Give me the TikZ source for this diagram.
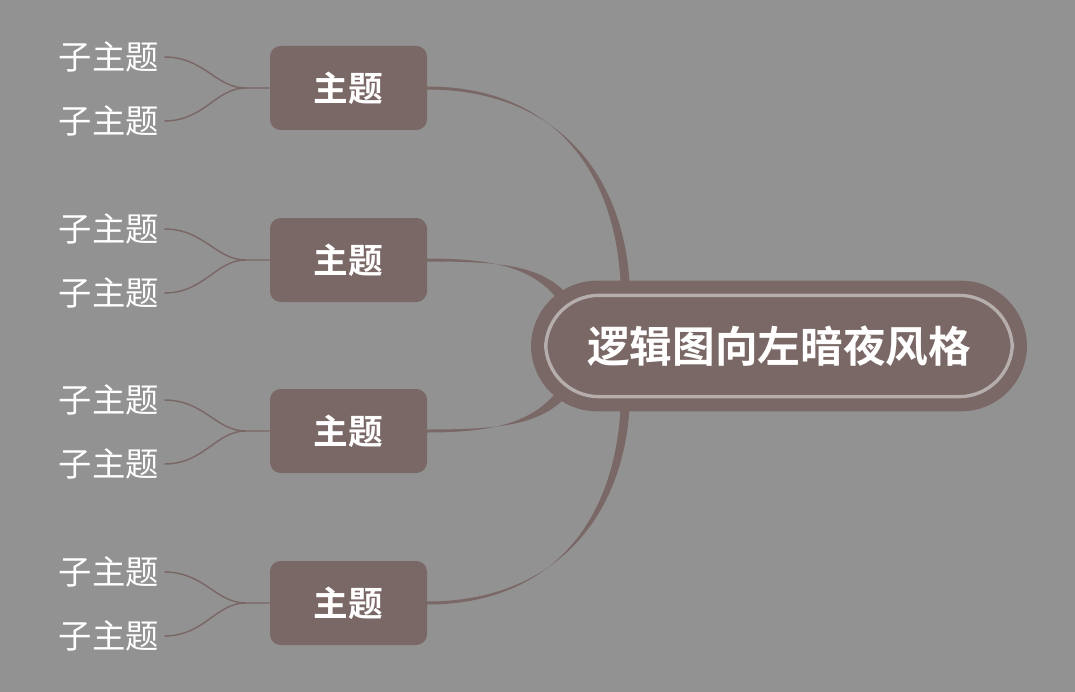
\documentclass[tikz,border=0pt]{standalone}
\usepackage{fontspec}
\newfontfamily\cjk{Noto Sans CJK SC}[BoldFont={Noto Sans CJK SC Bold}]
\definecolor{bg}{HTML}{929292}
\definecolor{nd}{HTML}{7A6866}
\definecolor{inl}{HTML}{B5AEAD}
\begin{document}
\begin{tikzpicture}[x=0.75pt,y=-0.75pt,
  topic/.style={draw=none,fill=nd,rounded corners=8pt,minimum width=117.75pt,minimum height=63pt,text=white,font=\cjk\bfseries\fontsize{26}{30}\selectfont,inner sep=0pt},
  sub/.style={text=white,font=\cjk\fontsize{25}{30}\selectfont,inner sep=0pt,anchor=east},
  thin/.style={draw=nd,line width=1.1pt}]
\fill[bg] (0,0) rectangle (1075,692);
\useasboundingbox (0,0) rectangle (1075,692);
% main connectors (tapered)
\fill[nd] (427,86.5) .. controls (560,86.5) and (621,180) .. (621,300) -- (630,300) .. controls (630,180) and (560,89.5) .. (427,89.5) -- cycle;
\fill[nd] (427,258.5) .. controls (500,258.5) and (535,270) .. (559,301) -- (567,294) .. controls (540,265) and (500,261.5) .. (427,261.5) -- cycle;
\fill[nd] (427,429.5) .. controls (500,429.5) and (540,425) .. (567,396) -- (559,389) .. controls (535,420) and (500,432.5) .. (427,432.5) -- cycle;
\fill[nd] (427,601.5) .. controls (560,601.5) and (630,510) .. (630,390) -- (621,390) .. controls (621,510) and (560,604.5) .. (427,604.5) -- cycle;
% center node
\node[draw=nd,line width=9pt,fill=nd,rounded corners=45pt,minimum width=363pt,minimum height=89pt,inner sep=0pt] (c) at (779,346) {};
\node[draw=inl,line width=2.5pt,rounded corners=40pt,minimum width=350pt,minimum height=76pt,inner sep=0pt,text=white,font=\cjk\bfseries\fontsize{32}{36}\selectfont] (ct) at (779,346) {逻辑图向左暗夜风格};
\foreach \i/\y in {1/88,2/260,3/431,4/603}{
  \node[topic] (t\i) at (348.5,\y) {主题};
  \node[sub] (s\i a) at (159,\y-31) {子主题};
  \node[sub] (s\i b) at (159,\y+33) {子主题};
  \draw[thin] ([xshift=4pt]s\i a.east) .. controls +(40,0) and +(-30,0) .. ([xshift=-18pt]t\i.west) -- (t\i.west);
  \draw[thin] ([xshift=4pt]s\i b.east) .. controls +(40,0) and +(-30,0) .. ([xshift=-18pt]t\i.west);
}
\end{tikzpicture}
\end{document}
